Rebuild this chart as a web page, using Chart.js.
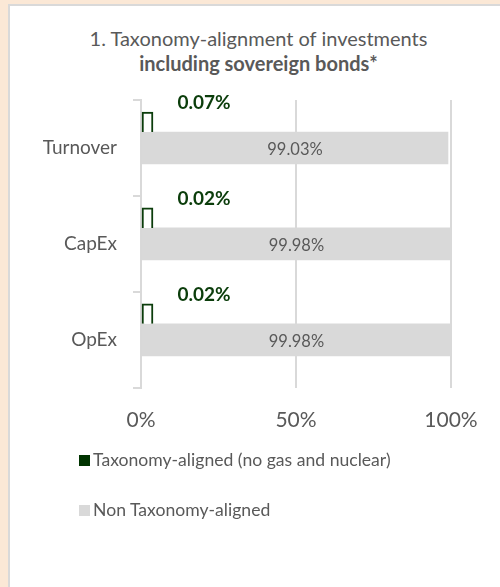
<!DOCTYPE html>
<html>
<head>
<meta charset="utf-8">
<script src="https://cdn.jsdelivr.net/npm/chart.js@4"></script>
<style>
  html, body { margin: 0; padding: 0; width: 500px; height: 587px; overflow: hidden; background: #fbe8d6; }
  #panel { position: absolute; left: 8px; top: 4px; width: 600px; height: 700px; background: #fff; border-top: 2px solid #d9d9d9; border-left: 2px solid #d9d9d9; }
  #chart-box { position: absolute; left: 9px; top: 5px; width: 500px; height: 582px; }
  #title { position: absolute; left: 0; top: 26px; width: 517px; text-align: center; font-family: Lato, sans-serif; font-size: 20px; line-height: 25px; color: #595959; }
  #title b { font-weight: bold; }
  #legend { position: absolute; left: 79px; top: 448px; font-family: Lato, sans-serif; font-size: 17.6px; color: #595959; }
  #legend div { height: 24px; line-height: 24px; margin-bottom: 26px; display: flex; align-items: center; white-space: nowrap; }
  #legend span.box { display: inline-block; width: 11px; height: 11px; margin-right: 3px; }
</style>
</head>
<body>
<div id="panel"></div>
<div id="title"></div>
<div id="chart-box"><canvas id="taxonomy-chart"></canvas></div>
<div id="legend"></div>
<script>
const categories = ["Turnover", "CapEx", "OpEx"]
const alignedValues = [0.07, 0.02, 0.02]
const nonAlignedValues = [99.03, 99.98, 99.98]
const xTicks = [0, 50, 100]
const titleLine1 = "1. Taxonomy-alignment of investments"
const titleLine2 = "including sovereign bonds*"
const seriesNames = ["Taxonomy-aligned (no gas and nuclear)", "Non Taxonomy-aligned"]

const darkGreen = "#0b3d0b"
const legendGreen = "#003300"
const lightGrey = "#d9d9d9"
const textGrey = "#595959"

// labels on top of / inside the bars
const barLabels = {
    id: "barLabels",
    afterDatasetsDraw(chart){
        const ctx = chart.ctx
        ctx.save()
        ctx.textAlign = "center"
        ctx.textBaseline = "middle"
        chart.getDatasetMeta(0).data.forEach((bar, i) => {
            ctx.font = "bold 19px Lato"
            ctx.fillStyle = darkGreen
            ctx.fillText(alignedValues[i].toFixed(2) + "%", bar.base + 62, bar.y - bar.height / 2 - 9)
        })
        chart.getDatasetMeta(1).data.forEach((bar, i) => {
            ctx.font = "16.5px Lato"
            ctx.fillStyle = textGrey
            ctx.fillText(nonAlignedValues[i].toFixed(2) + "%", (bar.base + bar.x) / 2, bar.y + 2)
        })
        ctx.restore()
    }
}

new Chart("taxonomy-chart", {
    type: "bar",
    data: {
        labels: categories,
        datasets: [{
            label: seriesNames[0],
            data: alignedValues,
            backgroundColor: "#ffffff",
            borderColor: darkGreen,
            borderWidth: 2,
            borderSkipped: "bottom",
            minBarLength: 12,
            barThickness: 26,
            maxBarThickness: 20
        }, {
            label: seriesNames[1],
            data: nonAlignedValues,
            backgroundColor: lightGrey,
            barThickness: 32
        }, {
            label: "",
            data: categories.map(() => null),
            barThickness: 32
        }]
    },
    options: {
        indexAxis: "y",
        responsive: true,
        maintainAspectRatio: false,
        animation: false,
        layout: { padding: { left: 0, right: 58, top: 95, bottom: 134 } },
        plugins: {
            legend: { display: false },
            tooltip: { enabled: false }
        },
        scales: {
            x: {
                min: 0,
                max: 100,
                afterBuildTicks: (scale) => { scale.ticks = xTicks.map(v => ({ value: v })) },
                ticks: {
                    color: textGrey,
                    font: { family: "Lato", size: 21 },
                    padding: 20,
                    callback: (v) => v + "%"
                },
                grid: { color: lightGrey, lineWidth: 2, drawTicks: false },
                border: { display: false }
            },
            y: {
                afterFit: (scale) => { scale.width = 132 },
                ticks: {
                    color: textGrey,
                    font: { family: "Lato", size: 19 },
                    padding: 16
                },
                grid: { drawOnChartArea: false, drawTicks: true, tickLength: 8, color: lightGrey, lineWidth: 2 },
                border: { color: lightGrey, width: 2 }
            }
        }
    },
    plugins: [barLabels]
})

document.getElementById("title").innerHTML = `${titleLine1}<br><b>${titleLine2}</b>`
const legendColors = [legendGreen, lightGrey]
document.getElementById("legend").innerHTML = seriesNames.map((name, i) =>
    `<div><span class="box" style="background:${legendColors[i]}"></span>${name}</div>`
).join("")
</script>
</body>
</html>
